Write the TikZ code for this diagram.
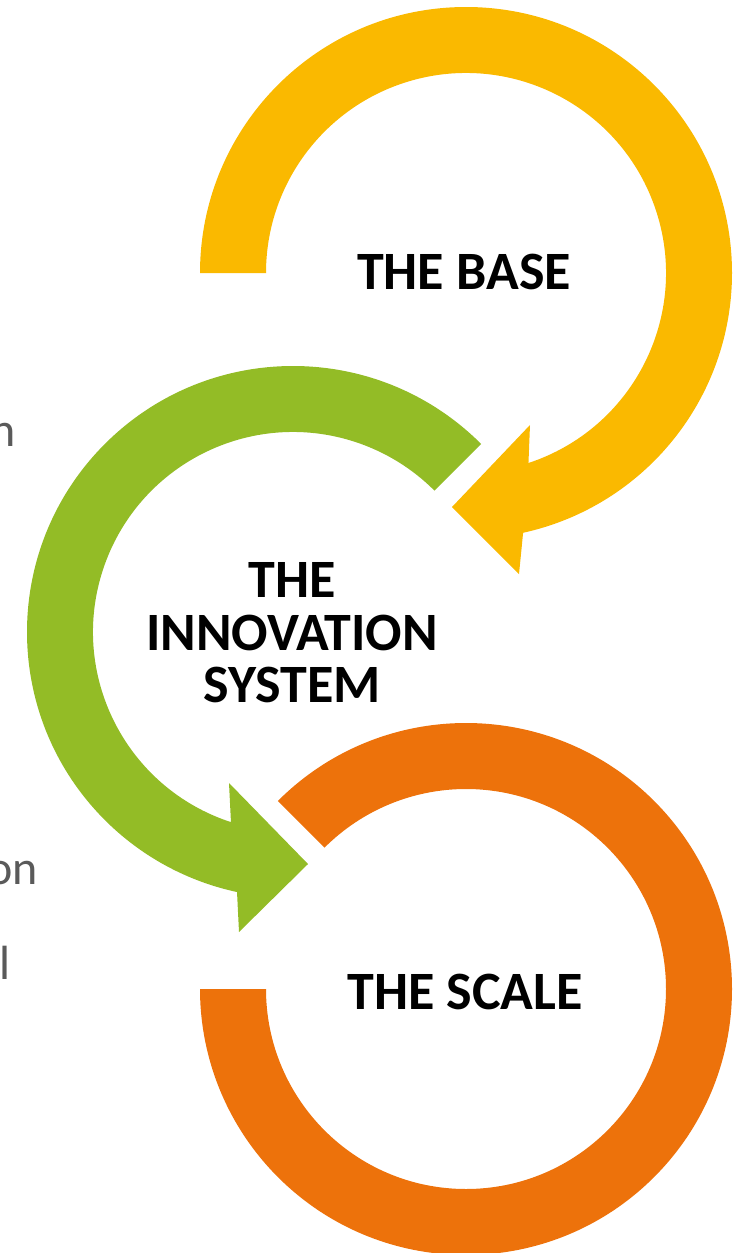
\documentclass[tikz,border=0pt]{standalone}
\usepackage{fontspec}
\setmainfont{Carlito}
\usetikzlibrary{calc}
\definecolor{yel}{RGB}{250,185,0}
\definecolor{grn}{RGB}{147,188,38}
\definecolor{org}{RGB}{237,114,11}
\definecolor{txtgray}{RGB}{90,90,90}
\tikzset{
  lbl/.style={inner sep=0pt, font=\fontsize{54}{54}\selectfont\bfseries, text=black},
  side/.style={inner sep=0pt, font=\fontsize{48}{48}\selectfont, text=txtgray}
}
\begin{document}
\begin{tikzpicture}[x=1pt,y=-1pt]
\useasboundingbox (0,0) rectangle (746,1253);
\clip (0,0) rectangle (746,1253);
\coordinate (yc) at (466,273);
\coordinate (gc) at (293,632);
\coordinate (oc) at (466,989);
% yellow arrow
\fill[yel] ($(yc)+(180:266)$) arc[start angle=180, end angle=437.6, radius=266]
  -- (519,574) -- (452,507) -- (530,425)
  -- ($(yc)+(431.8:200)$) arc[start angle=431.8, end angle=180, radius=200] -- cycle;
% green arrow
\fill[grn] ($(gc)+(-45:266)$) arc[start angle=-45, end angle=-257.85, radius=266]
  -- (239,932) -- (308,864) -- (229,783)
  -- ($(gc)+(-251.93:200)$) arc[start angle=-251.93, end angle=-45, radius=200] -- cycle;
% orange ring
\fill[org] ($(oc)+(-135:266)$) arc[start angle=-135, end angle=180, radius=266]
  -- ($(oc)+(180:200)$) arc[start angle=180, end angle=-135, radius=200] -- cycle;
% labels
\node[lbl, anchor=base] (base) at (464,289) {THE BASE};
\node[lbl, anchor=base] (sys1) at (292,597) {THE};
\node[lbl, anchor=base] (sys2) at (292,650) {INNOVATION};
\node[lbl, anchor=base] (sys3) at (292,702) {SYSTEM};
\node[lbl, anchor=base] (scale) at (465,1009) {THE SCALE};
% side texts, cut by the left edge as in the reference
\node[side, anchor=base east] (s1) at (16,446) {n};
\node[side, anchor=base east] (s2) at (38,884) {on};
\node[side, anchor=base west] (s3) at (-1,979) {l};
\end{tikzpicture}
\end{document}
